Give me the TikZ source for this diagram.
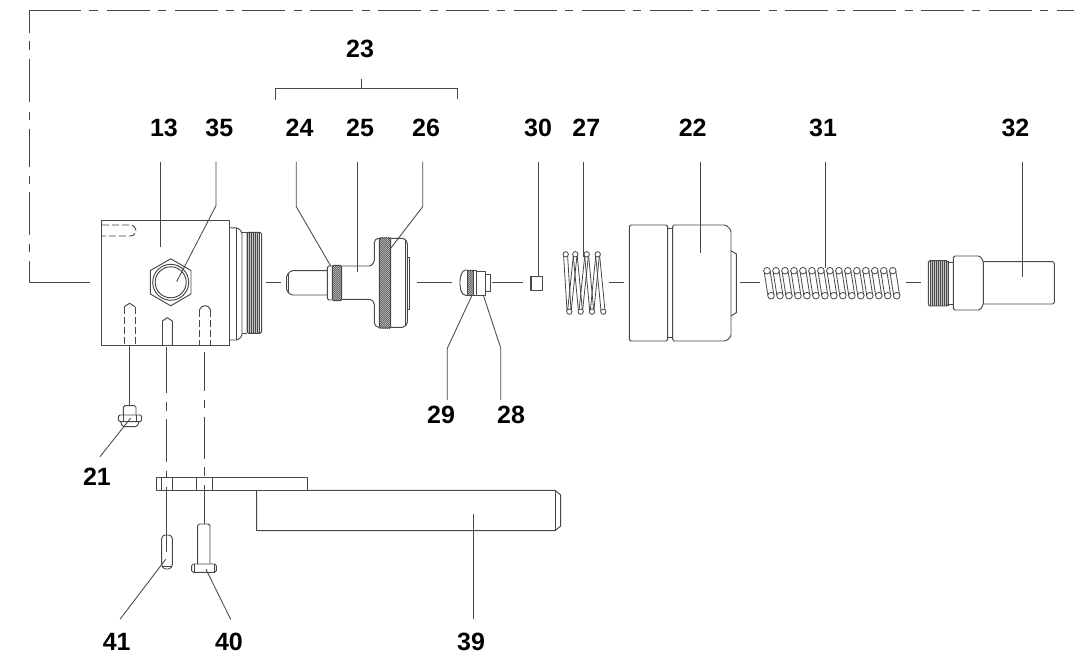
\documentclass[tikz,border=0pt]{standalone}
\usepackage{fontspec}
\setmainfont{Liberation Sans}
\definecolor{ink}{HTML}{484848}
\newcommand{\hatchbox}[4]{%
  \begin{scope}
    \clip (#1,#2) rectangle (#3,#4);
    \fill[gray!40] (#1,#2) rectangle (#3,#4);
    \foreach \k in {-120,-118,...,120}{\draw[ink,line width=.45pt] ({(#1+#3)/2+\k},#2) -- ++(-110,110);}
  \end{scope}}
\tikzset{
  part/.style={draw=ink,line width=.95pt,line join=round},
  rnd/.style={part,rounded corners=1.6pt},
  thin part/.style={draw=ink,line width=.8pt},
  lead/.style={draw=ink,line width=.85pt},
  hid/.style={draw=ink,line width=.9pt,dash pattern=on 7pt off 3pt},
  num/.style={font=\bfseries\fontsize{25}{25}\selectfont,text=black,inner sep=0pt}
}
\begin{document}
\begin{tikzpicture}[x=1pt,y=-1pt]
\useasboundingbox (0,0) rectangle (1074,663);
\fill[white] (0,0) rectangle (1074,663);
% labels
\node[num] (n23) at (360,48.5) {23};
\foreach \n/\x in {13/164,35/219.4,24/299.6,25/360,26/426,30/538,27/586.3,22/692.7,31/823,32/1015.4}
  \node[num] (n\n) at (\x,127.5) {\n};
\node[num] (n21) at (97,477) {21};
\node[num] (n29) at (441,415) {29};
\node[num] (n28) at (511,415) {28};
\node[num] (n41) at (116.7,641.5) {41};
\node[num] (n40) at (229,641.5) {40};
\node[num] (n39) at (471,641.5) {39};
% outer chain line
\coordinate (blockL) at (89.5,282.3);
\coordinate (cornerB) at (29.3,282.3);
\coordinate (cornerT) at (29.3,10.3);
\draw[part] (blockL) -- (cornerB) -- (29.3,260.7);
\foreach \a/\b in {251.7/244,235/192.3,183.7/175.7,167/129,120/112,102/59,50/41}
  \draw[part] (29.3,\a) -- (29.3,\b);
\draw[part] (29.3,33) -- (cornerT) -- (81,10.3);
\draw[part] (89,10.3) -- (98,10.3);
\draw[part,dash pattern=on 43pt off 8.5pt on 8pt off 8.35pt] (106.7,10.3) -- (1074,10.3);
% bracket 23
\draw[lead] (275.8,100) -- (275.8,88.8) -- (457.3,88.8) -- (457.3,99);
\draw[lead] (361,88.8) -- (361,79);
% axis segments
\foreach \a/\b in {265.7/280.7,417/451.7,492.3/522.7,609/624,740/760,906/921}
  \draw[part] (\a,282) -- (\b,282);
% block 13
\draw[part] (101.7,220) rectangle (229,345.7);
\draw[hid] (102,225) -- (130,225) .. controls (134,225) and (136,228) .. (136,230.5) .. controls (136,233) and (134,236) .. (130,236) -- (102,236);
\draw[part] (124.3,306.7) -- (129.6,303.3) -- (135,306.7);
\draw[hid] (124.3,306.7) -- (124.3,345.7);
\draw[hid] (135,306.7) -- (135,345.7);
\draw[part] (162.3,321) -- (167.3,317.7) -- (172.3,321) -- (172.3,345.7);
\draw[part] (162.3,321) -- (162.3,345.7);
\draw[part] (199.3,310) -- (202,306.5) -- (205,305.7) -- (208,306.5) -- (210.7,310);
\draw[hid] (199.3,310) -- (199.3,345.7);
\draw[hid] (210.7,310) -- (210.7,345.7);
% hex plug 35
\draw[part] (170.7,258.8) -- (191,270.5) -- (191,294) -- (170.7,305.8) -- (150.4,294) -- (150.4,270.5) -- cycle;
\draw[part] (170.7,282.3) circle (18);
\draw[part] (170.7,282.3) circle (15.5);
% threaded end of 13
\draw[rnd] (229,227.7) -- (238,228) -- (242,232) -- (242,336) -- (238,340) -- (229,340);
\draw[part] (236.7,228) -- (236.7,340);
\draw[part] (242,232.5) -- (247,232.5) (242,333) -- (247,333);
\fill[gray!45] (247,232.3) rectangle (259,333.3);
\foreach \x in {247,249,...,259} \draw[ink,line width=.5pt] (\x,232.3) -- (\x,333.3);
\draw[rnd] (247,232.3) rectangle (261.7,333.3);
% piston 24 25 26
\draw[rnd] (327.3,270.7) -- (291,270.7) -- (286.7,275) -- (286.7,291) -- (291,295) -- (327.3,295);
\draw[part] (288.5,273) -- (288.5,293);
\draw[rnd] (332.3,266) -- (327.3,266) -- (327.3,300) -- (332.3,300);
\draw[rnd] (341.7,266) -- (371,266) -- (374.3,262) -- (374.3,241) -- (377,238.3) -- (379.3,238.3);
\draw[rnd] (341.7,299.3) -- (371,299.3) -- (374.3,303) -- (374.3,324) -- (377,327.3) -- (379.3,327.3);
\hatchbox{332.3}{265.3}{341.7}{300.7}
\draw[rnd] (332.3,265.3) rectangle (341.7,300.7);
\hatchbox{379.3}{237.3}{390.7}{328.3}
\draw[rnd] (379.3,238) rectangle (390.7,328);
\draw[rnd] (390.7,238.3) -- (404,238.3) -- (407.3,242) -- (407.3,324) -- (404,327.3) -- (390.7,327.3);
\draw[part] (405,240) -- (405,326);
\draw[part] (407.3,257.3) -- (409.3,257.3) -- (409.3,309.3) -- (407.3,309.3);
% 29 28
\draw[rnd] (467.3,270) -- (464,270) .. controls (461,274) and (460,278) .. (460,283) .. controls (460,288) and (461,292) .. (464,295.3) -- (467.3,295.3);
\hatchbox{467.3}{270}{473.3}{295.3}
\draw[part] (467.3,270) rectangle (473.3,295.3);
\draw[part] (473.3,270) -- (476.7,270) -- (476.7,295.3) -- (473.3,295.3);
\draw[part] (476.7,271.7) -- (485,271.7) -- (485,295) -- (476.7,295);
\draw[part] (485,274.3) -- (490,274.3) -- (490,291.7) -- (485,291.7);
% 30
\draw[part] (531.5,276) rectangle (542.7,290.7);
\draw[part] (530,276) -- (530,291);
% spring 27
\foreach \tx/\bx/\nx in {565.7/569.3/575.3,575.3/580.7/586.7,586.7/592/597.7}{
  \draw[thin part] (\tx-2.2,254.3) -- (\bx-2.2,311.7);
  \draw[thin part] (\tx+1.8,254.3) -- (\bx+1.8,311.7);
  \draw[thin part] (\bx-1.8,311.7) -- (\nx-1.8,254.3);
  \draw[thin part] (\bx+1.8,311.7) -- (\nx+1.8,254.3);
}
\draw[thin part] (597.7-2.2,254.3) -- (603.3-2.2,311.7);
\draw[thin part] (597.7+1.8,254.3) -- (603.3+1.8,311.7);
\foreach \x in {565.7,575.3,586.7,597.7} \draw[thin part,fill=white] (\x,254.3) circle (2.7);
\foreach \x in {569.3,580.7,592,603.3} \draw[thin part,fill=white] (\x,311.7) circle (2.7);
% 22
\draw[rnd] (629.3,225) rectangle (667.7,341);
\draw[part] (667.7,228.3) -- (672.7,228.3) (667.7,337.3) -- (672.7,337.3);
\draw[rnd] (672.7,225) -- (726,225) -- (731,230) -- (731,336.7) -- (726,341) -- (672.7,341) -- cycle;
\draw[part] (731,250.7) -- (736.3,254) -- (736.3,312.7) -- (731,316);
% spring 31
\foreach \i in {0,...,14}{
  \pgfmathsetmacro{\tx}{767+8.98*\i}
  \pgfmathsetmacro{\bx}{771+8.98*\i}
  \draw[thin part] (\tx-3,270.7) -- (\bx-3,295.7);
  \draw[thin part] (\tx+3,270.7) -- (\bx+3,295.7);
}
\foreach \i in {0,...,14}{
  \pgfmathsetmacro{\tx}{767+8.98*\i}
  \pgfmathsetmacro{\bx}{771+8.98*\i}
  \draw[thin part,fill=white] (\tx,270.7) circle (3.3);
  \draw[thin part,fill=white] (\bx,295.7) circle (3.3);
}
% 32
\fill[gray!45] (931,260.7) rectangle (948.3,306);
\foreach \x in {930,932,...,948} \draw[ink,line width=.5pt] (\x,260.7) -- (\x,306);
\draw[rnd] (928.3,260.7) rectangle (948.3,306);
\draw[part] (948.3,262) -- (953.3,262) (948.3,304) -- (953.3,304);
\draw[rnd] (953.3,256) -- (980,256) -- (983.3,261) -- (983.3,305) -- (980,310) -- (953.3,310) -- cycle;
\draw[rnd] (983.3,261.7) -- (1054.3,261.7) -- (1054.3,304) -- (983.3,304);
% 21 nut and axis
\draw[part] (129.3,345.7) -- (129.3,405.7);
\draw[rnd] (123.3,415) -- (123.3,405.7) -- (136,405.7) -- (136,415);
\draw[rnd] (118.3,415) rectangle (141.7,421.7);
\draw[part] (123.3,415) -- (123.3,421.7) (136,415) -- (136,421.7);
\draw[rnd] (120.7,421.7) -- (122.5,426.7) -- (137,426.7) -- (139,421.7);
% dash-dot axes
\foreach \a/\b in {346.7/393.3,401.7/410.7,419/461.7,470.7/477.3}
  \draw[part] (166.7,\a) -- (166.7,\b);
\foreach \a/\b in {351.7/390.7,400/407.7,416.7/459,467.3/476}
  \draw[part] (204.1,\a) -- (204.1,\b);
% plate and arm 39
\draw[part] (156.7,477.7) rectangle (307.3,490.3);
\foreach \x in {161.7,172.3,196.7,212.3} \draw[part] (\x,477.7) -- (\x,490.3);
\draw[part] (307.3,490.3) -- (555,490.3) -- (560.7,495) -- (560.7,526) -- (555,530.7) -- (256.7,530.7) -- (256.7,490.3);
\draw[part] (555,490.3) -- (555,530.7);
% 41 pin
\draw[part] (166.7,487) -- (166.7,535);
\draw[rnd] (161.7,537) -- (164,535) -- (170,535) -- (172.3,537) -- (172.3,566) -- (170,569) -- (164,569) -- (161.7,566) -- cycle;
\draw[part] (166.7,535) -- (166.7,552);
\draw[part] (161.7,566) -- (172.3,566);
% 40 bolt
\draw[part] (204.3,485) -- (204.3,524);
\draw[rnd] (197.7,564) -- (197.7,524) -- (210,524) -- (210,564);
\draw[rnd] (191.7,564) rectangle (216.3,572.3);
\draw[part] (194,564) -- (194,572) (214,564) -- (214,572);
% leaders
\coordinate (t13) at (160.3,161.7); \coordinate (e13) at (160.3,247.3);
\coordinate (t35) at (216,161.7); \coordinate (b35) at (216,205.7); \coordinate (e35) at (176.7,281.7);
\coordinate (t24) at (296.3,161.7); \coordinate (b24) at (296.3,206.7); \coordinate (e24) at (330.7,266);
\coordinate (t25) at (357.7,161.7); \coordinate (e25) at (357.7,272.3);
\coordinate (t26) at (422.7,161.7); \coordinate (b26) at (422.7,206.7); \coordinate (e26) at (390.7,248.3);
\coordinate (t30) at (538,161.7); \coordinate (e30) at (538,276);
\coordinate (t27) at (583.7,161.7); \coordinate (e27) at (583.7,257);
\coordinate (t22) at (700,161.7); \coordinate (e22) at (700,252.7);
\coordinate (t31) at (825.7,161.7); \coordinate (e31) at (825.7,268);
\coordinate (t32) at (1022.7,161.7); \coordinate (e32) at (1022.7,277.3);
\draw[lead] (t13) -- (e13);
\draw[lead] (t35) -- (b35) -- (e35);
\draw[lead] (t24) -- (b24) -- (e24);
\draw[lead] (t25) -- (e25);
\draw[lead] (t26) -- (b26) -- (e26);
\draw[lead] (t30) -- (e30);
\draw[lead] (t27) -- (e27);
\draw[lead] (t22) -- (e22);
\draw[lead] (t31) -- (e31);
\draw[lead] (t32) -- (e32);
\coordinate (e29) at (471.7,296); \coordinate (b29) at (447.3,348.3); \coordinate (t29) at (447.3,400);
\coordinate (e28) at (483.3,295); \coordinate (b28) at (500.7,348); \coordinate (t28) at (500.7,400);
\draw[lead] (e29) -- (b29) -- (t29);
\draw[lead] (e28) -- (b28) -- (t28);
\coordinate (e21) at (130.7,418); \coordinate (t21) at (100,456.7);
\draw[lead] (e21) -- (t21);
\coordinate (e41) at (165.7,559.3); \coordinate (t41) at (120,619.3);
\coordinate (e40) at (206,569.3); \coordinate (t40) at (230.7,619.3);
\coordinate (e39) at (473,514); \coordinate (t39) at (473,619.3);
\draw[lead] (e41) -- (t41);
\draw[lead] (e40) -- (t40);
\draw[lead] (e39) -- (t39);
\end{tikzpicture}
\end{document}
